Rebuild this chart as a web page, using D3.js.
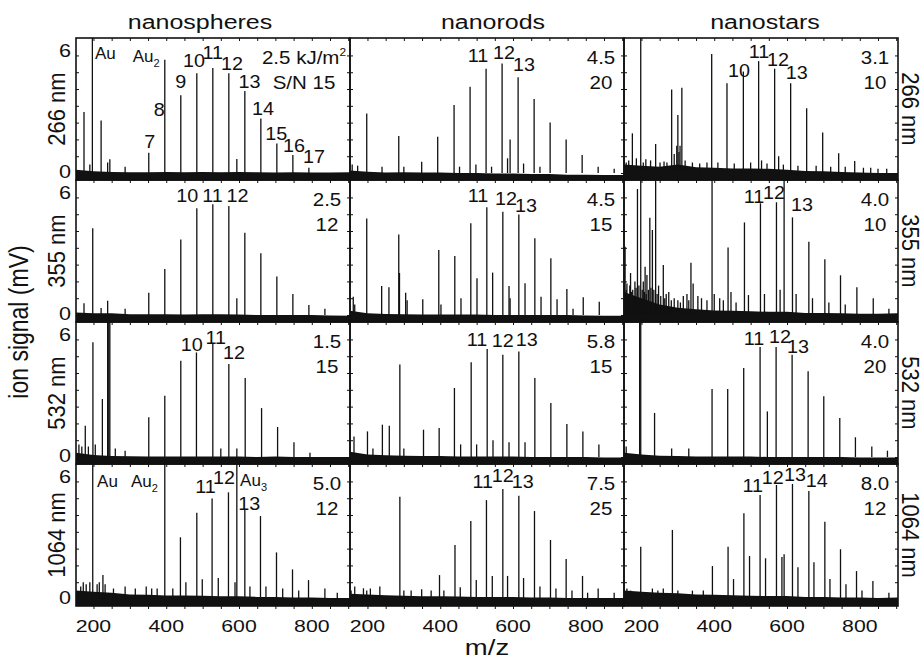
<!DOCTYPE html>
<html>
<head>
<meta charset="utf-8">
<script src="https://cdn.jsdelivr.net/npm/d3@7"></script>
<style>
body { margin: 0; background: #fff; }
text { font-family: "Liberation Sans", Arial, Helvetica, sans-serif; fill: #111; }
</style>
</head>
<body>
<script>
var w = 922, h = 659;

// ---- data ----
var shapes = ["nanospheres", "nanorods", "nanostars"];
var wavelengths = ["266 nm", "355 nm", "532 nm", "1064 nm"];
var xTickValues = [200, 250, 300, 350, 400, 450, 500, 550, 600, 650, 700, 750, 800, 850, 900];
var xTickLabels = [200, 400, 600, 800];
var yTickValues = [0, 0.8, 1.6, 2.4, 3.2, 4.0, 4.8, 5.6];
var yTickLabels = [0, 6];

// fluence (kJ/m2) and S/N, rows = wavelength, cols = shape
var fluence = [["2.5", "4.5", "3.1"], ["2.5", "4.5", "4.0"], ["1.5", "5.8", "4.0"], ["5.0", "7.5", "8.0"]];
var signalNoise = [["15", "20", "10"], ["12", "15", "10"], ["15", "15", "20"], ["12", "25", "12"]];

// baseline noise level read every 50 m/z
var noiseMz = [152, 200, 250, 300, 350, 400, 450, 500, 550, 600, 650, 700, 750, 800, 850, 905];
var noise_sph266 = [0.15, 0.08, 0.05, 0.04, 0.04, 0.05, 0.04, 0.05, 0.04, 0.05, 0.04, 0.03, 0.04, 0.03, 0.03, 0.04];
var noise_rod266 = [0.12, 0.06, 0.03, 0.04, 0.02, 0.03, 0.0, 0.0, -0.02, -0.02, -0.05, -0.05, -0.08, -0.08, -0.1, -0.1];
var noise_star266 = [0.4, 0.35, 0.3, 0.4, 0.28, 0.25, 0.22, 0.22, 0.2, 0.15, 0.1, 0.08, 0.05, 0.03, 0.0, 0.0];
var noise_sph355 = [0.12, 0.08, 0.08, 0.04, 0.04, 0.04, 0.03, 0.04, 0.04, 0.02, 0.0, 0.0, 0.0, 0.0, -0.02, -0.03];
var noise_rod355 = [0.2, 0.08, 0.05, 0.04, 0.03, 0.03, 0.02, 0.02, 0.0, 0.0, 0.0, 0.0, 0.0, -0.02, -0.03, -0.03];
var noise_star355 = [1.1, 0.8, 0.5, 0.35, 0.28, 0.22, 0.2, 0.18, 0.15, 0.15, 0.1, 0.1, 0.08, 0.06, 0.06, 0.08];
var noise_sph532 = [0.2, 0.1, 0.05, 0.04, 0.03, 0.03, 0.02, 0.03, 0.02, 0.02, 0.0, 0.02, 0.0, 0.0, 0.0, 0.0];
var noise_rod532 = [0.25, 0.12, 0.08, 0.06, 0.05, 0.05, 0.03, 0.03, 0.02, 0.02, 0.0, 0.0, 0.0, 0.0, -0.02, -0.02];
var noise_star532 = [0.2, 0.12, 0.06, 0.05, 0.03, 0.03, 0.02, 0.02, 0.0, 0.0, 0.0, 0.0, 0.0, -0.02, -0.02, -0.02];
var noise_sph1064 = [0.4, 0.35, 0.3, 0.22, 0.2, 0.17, 0.17, 0.15, 0.13, 0.13, 0.1, 0.1, 0.07, 0.07, 0.05, 0.05];
var noise_rod1064 = [0.25, 0.22, 0.18, 0.15, 0.13, 0.13, 0.12, 0.1, 0.1, 0.1, 0.07, 0.07, 0.05, 0.05, 0.05, 0.05];
var noise_star1064 = [0.4, 0.35, 0.3, 0.27, 0.22, 0.2, 0.18, 0.16, 0.14, 0.14, 0.1, 0.1, 0.07, 0.07, 0.05, 0.07];

// peaks [m/z, signal]
var peaks_sph266 = [[174, 2.9], [190, 0.4], [197, 7], [221, 2.5], [239, 0.5], [245, 0.65], [287, 0.3], [352, 0.97],
  [396, 5.4], [440, 3.7], [484, 4.75], [528, 5.0], [572, 4.75], [594, 0.67], [616, 3.9], [660, 2.6], [704, 1.4],
  [748, 0.86], [792, 0.25]];
var peaks_rod266 = [[158, 0.4], [173, 0.35], [198, 2.84], [240, 0.3], [286, 1.76], [300, 0.3], [349, 0.54], [393, 1.73],
  [438, 3.24], [453, 0.3], [482, 4.11], [498, 0.4], [526, 4.97], [541, 0.3], [570, 5.22], [585, 0.7], [592, 1.6],
  [614, 4.56], [629, 0.45], [658, 3.52], [674, 0.3], [702, 2.41], [746, 1.6], [790, 0.86], [834, 0.3], [878, 0.2]];
var peaks_star266 = [[158, 0.5], [165, 0.6], [175, 1.89], [186, 0.7], [198, 7], [205, 0.5], [212, 0.65], [225, 0.6],
  [239, 1.38], [251, 0.5], [262, 0.55], [270, 0.5], [283, 3.98], [290, 0.9], [297, 1.3], [300, 2.76], [303, 1.0],
  [306, 1.3], [311, 4.06], [320, 0.6], [340, 0.5], [360, 0.45], [380, 0.5], [393, 5.67], [410, 0.5], [435, 4.27],
  [455, 0.45], [480, 4.83], [500, 0.5], [522, 5.33], [530, 0.6], [545, 0.45], [566, 4.97], [577, 0.8], [590, 0.4],
  [610, 4.27], [630, 0.35], [654, 3.08], [680, 0.35], [698, 1.93], [720, 0.3], [742, 0.94], [760, 0.3], [786, 0.57],
  [810, 0.25], [830, 0.25], [850, 0.2], [874, 0.2]];
var peaks_sph355 = [[174, 0.56], [198, 4.13], [221, 0.33], [239, 0.68], [287, 0.3], [352, 1.06], [396, 2.19], [440, 3.6],
  [484, 5.08], [528, 5.27], [572, 5.19], [594, 0.8], [616, 3.92], [660, 2.94], [704, 1.83], [748, 1.0], [792, 0.48],
  [836, 0.3]];
var peaks_rod355 = [[161, 0.87], [165, 0.5], [198, 4.6], [239, 1.38], [259, 1.32], [286, 3.84], [288, 2.0], [305, 1.06],
  [309, 0.7], [352, 0.75], [396, 3.1], [402, 0.5], [440, 2.81], [457, 0.8], [484, 4.37], [501, 1.75], [528, 5.13],
  [544, 2.02], [572, 4.92], [589, 1.38], [592, 0.8], [616, 4.79], [633, 1.51], [660, 3.65], [677, 0.87], [704, 2.7],
  [721, 0.75], [748, 1.24], [765, 0.3], [793, 0.84], [837, 0.63]];
var peaks_star355 = [[155, 3.25], [158, 1.2], [160, 1.5], [163, 0.9], [165, 1.0], [168, 1.4], [170, 2.0], [173, 1.1],
  [176, 1.2], [179, 0.9], [182, 1.6], [185, 1.3], [189, 6.0], [193, 1.4], [198, 7], [202, 1.2], [205, 1.6], [208, 1.1],
  [210, 2.3], [213, 1.0], [215, 1.9], [219, 1.2], [223, 4.63], [226, 1.3], [230, 4.05], [234, 1.2], [239, 7],
  [243, 1.0], [247, 1.4], [253, 0.9], [260, 2.38], [264, 0.8], [268, 1.0], [275, 1.1], [282, 0.7], [290, 0.8],
  [300, 0.7], [307, 0.6], [315, 0.9], [325, 1.0], [330, 0.7], [336, 2.49], [342, 1.5], [355, 0.9], [365, 0.8],
  [380, 0.7], [394, 7], [400, 1.0], [415, 0.8], [425, 0.7], [438, 3.22], [446, 1.1], [460, 0.6], [483, 4.41],
  [494, 0.95], [527, 5.32], [538, 1.0], [571, 5.37], [581, 1.2], [592, 7], [615, 4.65], [625, 1.0], [660, 3.49],
  [670, 0.8], [704, 2.65], [715, 0.6], [747, 1.89], [760, 0.5], [792, 1.32], [837, 0.8], [880, 0.3]];
var peaks_sph532 = [[160, 0.6], [168, 0.5], [177.5, 1.49], [186, 0.5], [198.5, 5.46], [205, 0.6], [224.5, 2.76],
  [239, 7], [242, 7], [245, 7], [260, 0.4], [287, 0.3], [352, 1.89], [396, 2.92], [440, 4.59], [483, 4.98],
  [528, 5.38], [550, 0.4], [572, 4.43], [594, 0.4], [617, 3.76], [662, 2.33], [706, 1.43], [751, 0.7], [795, 0.2]];
var peaks_rod532 = [[163, 0.98], [200, 1.22], [215, 0.4], [241, 1.54], [260, 1.49], [289, 4.4], [300, 0.4], [354, 1.3],
  [397, 1.38], [439, 3.29], [456, 0.6], [485, 4.51], [500, 0.6], [529, 5.14], [545, 0.8], [572, 4.87], [589, 0.7],
  [616, 5.03], [633, 0.7], [660, 3.76], [704, 2.57], [748, 1.57], [792, 1.22], [836, 0.6]];
var peaks_star532 = [[158, 0.5], [195, 7], [198, 7], [236, 2.1], [283, 0.4], [330, 0.4], [394, 3.24], [437, 3.24],
  [481, 4.24], [526, 5.24], [546, 2.17], [570, 5.24], [614, 4.87], [658, 4.08], [701, 2.89], [745, 1.86], [788, 0.94],
  [833, 0.5], [876, 0.3]];
var peaks_sph1064 = [[165, 0.6], [172, 0.8], [180, 0.7], [190, 0.8], [198, 7], [210, 0.7], [216, 0.8], [226, 1.14],
  [232, 0.7], [255, 0.5], [287, 0.6], [315, 0.5], [345, 0.6], [360, 0.5], [375, 0.5], [396, 7], [418, 0.5],
  [439, 2.94], [454, 0.8], [484, 4.11], [499, 0.94], [526, 4.79], [543, 1.0], [571, 5.08], [589, 0.8], [594, 7],
  [616, 4.24], [630, 0.6], [659, 3.95], [674, 0.6], [703, 2.22], [720, 0.5], [747, 1.41], [764, 0.4], [791, 0.9],
  [836, 0.5], [870, 0.3]];
var peaks_rod1064 = [[155, 0.4], [165, 0.6], [189, 0.51], [198, 0.41], [208, 0.5], [234, 0.6], [289, 4.87], [300, 0.4],
  [320, 0.4], [349, 0.46], [375, 0.4], [398, 1.14], [410, 0.4], [440.5, 2.57], [455, 0.56], [484, 3.71], [499, 0.9],
  [527, 4.71], [543, 1.1], [572, 5.24], [585, 1.1], [616, 4.92], [629, 1.0], [659, 4.19], [674, 0.6], [703, 2.81],
  [718, 0.5], [746, 1.9], [762, 0.4], [791, 1.1], [805, 0.3], [834, 0.5], [878, 0.3]];
var peaks_star1064 = [[160, 0.5], [170, 0.4], [198, 2.49], [230, 0.5], [245, 0.4], [260, 0.5], [285, 3.29], [300, 0.4],
  [340, 0.4], [370, 0.4], [395, 1.57], [438, 2.49], [453, 0.95], [481.5, 4.08], [497, 2.05], [526, 4.95], [541, 1.94],
  [571, 5.43], [586, 2.0], [592, 2.13], [615, 5.48], [630, 1.51], [660, 5.14], [674, 1.75], [704, 3.68], [718, 0.95],
  [747, 2.37], [762, 0.7], [791, 1.33], [806, 0.4], [836, 0.86], [880, 0.3]];

// peak labels [text, m/z, signal] ("Au_2" = Au with subscript 2)
var labels_sph266 = [["Au", 204, 5.43], ["Au_2", 308, 5.29], ["7", 355, 1.19], ["8", 381, 2.73], ["9", 440, 4.05],
  ["10", 476, 5.06], ["11", 528, 5.43], ["12", 581, 4.9], ["13", 629, 4.05], ["14", 666, 2.76], ["15", 702, 1.57],
  ["16", 751, 1.01], ["17", 806, 0.48]];
var labels_rod266 = [["11", 504, 5.3], ["12", 575, 5.43], ["13", 630, 4.86]];
var labels_star266 = [["10", 468, 4.57], ["11", 523, 5.48], ["12", 575, 5.1], ["13", 627, 4.48]];
var labels_sph355 = [["10", 458, 5.4], ["11", 527, 5.4], ["12", 596, 5.4]];
var labels_rod355 = [["11", 504, 5.4], ["12", 581, 5.24], ["13", 636, 4.9]];
var labels_star355 = [["11", 509, 5.33], ["12", 564, 5.52], ["13", 641, 4.95]];
var labels_sph532 = [["10", 470, 5.05], ["11", 536, 5.38], ["12", 586, 4.68]];
var labels_rod532 = [["11", 501, 5.29], ["12", 572, 5.24], ["13", 638, 5.29]];
var labels_star532 = [["11", 509, 5.35], ["12", 581, 5.43], ["13", 630, 4.95]];
var labels_sph1064 = [["Au", 210, 5.33], ["Au_2", 303, 5.33], ["11", 508, 5.05], ["12", 559, 5.48], ["Au_3", 603, 5.4],
  ["13", 628, 4.25]];
var labels_rod1064 = [["11", 517, 5.29], ["12", 572, 5.57], ["13", 627, 5.29]];
var labels_star1064 = [["11", 506, 5.11], ["12", 561, 5.48], ["13", 622, 5.63], ["14", 682, 5.33]];

var grid = [
  [[peaks_sph266, noise_sph266, labels_sph266], [peaks_rod266, noise_rod266, labels_rod266], [peaks_star266, noise_star266, labels_star266]],
  [[peaks_sph355, noise_sph355, labels_sph355], [peaks_rod355, noise_rod355, labels_rod355], [peaks_star355, noise_star355, labels_star355]],
  [[peaks_sph532, noise_sph532, labels_sph532], [peaks_rod532, noise_rod532, labels_rod532], [peaks_star532, noise_star532, labels_star532]],
  [[peaks_sph1064, noise_sph1064, labels_sph1064], [peaks_rod1064, noise_rod1064, labels_rod1064], [peaks_star1064, noise_star1064, labels_star1064]]
];

// ---- layout ----
var padLeft = 76, padTop = 38, colW = 274, rowH = 142;
var titleDx = [-13, 6, 4];

var svg = d3.select("body").append("svg")
    .attr("width", w)
    .attr("height", h);

function addText(g, x, y, str, size, sx, anchor) {
    return g.append("text")
        .attr("transform", "translate(" + x + "," + y + ") scale(" + sx + ",1)")
        .attr("text-anchor", anchor)
        .style("font-size", size + "px")
        .text(str);
}

grid.forEach(function (row, r) {
    var y0 = padTop + r * rowH;
    var y = d3.scaleLinear().domain([-0.333, 6.43]).range([y0 + rowH, y0]);

    row.forEach(function (cell, c) {
        var x0 = padLeft + c * colW;
        var x = d3.scaleLinear().domain([152, 905]).range([x0, x0 + colW]);
        var peaks = cell[0], noise = cell[1], labels = cell[2];
        var g = svg.append("g");

        var clipId = "clip" + r + c;
        svg.append("clipPath").attr("id", clipId)
            .append("rect").attr("x", x0).attr("y", y0).attr("width", colW).attr("height", rowH);
        var plot = g.append("g").attr("clip-path", "url(#" + clipId + ")");

        // noise band
        var area = d3.area()
            .x(function (d) { return x(d[0]); })
            .y0(y(-0.6))
            .y1(function (d) { return y(d[1]); });
        plot.append("path")
            .datum(noiseMz.map(function (m, i) { return [m, noise[i]]; }))
            .attr("d", area)
            .attr("fill", "#111");

        // peaks
        plot.selectAll("line.pk")
            .data(peaks)
            .enter()
            .append("line")
            .attr("class", "pk")
            .attr("x1", function (d) { return x(d[0]); })
            .attr("x2", function (d) { return x(d[0]); })
            .attr("y1", y(0))
            .attr("y2", function (d) { return y(d[1]); })
            .attr("stroke", "#111")
            .attr("stroke-width", 1.3);

        // ticks
        var bottomRow = r === grid.length - 1;
        g.append("g").attr("transform", "translate(0," + (y0 + rowH) + ")")
            .call(d3.axisBottom(x).tickValues(xTickValues).tickSize(bottomRow ? 3 : -3).tickFormat(""));
        g.append("g").attr("transform", "translate(0," + y0 + ")")
            .call(d3.axisTop(x).tickValues(xTickValues).tickSize(-3).tickFormat(""));
        g.append("g").attr("transform", "translate(" + x0 + ",0)")
            .call(d3.axisLeft(y).tickValues(yTickValues).tickSize(-3).tickFormat(""));
        g.append("g").attr("transform", "translate(" + (x0 + colW) + ",0)")
            .call(d3.axisRight(y).tickValues(yTickValues).tickSize(-3).tickFormat(""));
        g.selectAll(".domain").remove();
        g.selectAll(".tick line").attr("stroke", "#111").attr("stroke-width", 1);

        // frame
        g.append("rect")
            .attr("x", x0).attr("y", y0).attr("width", colW).attr("height", rowH)
            .attr("fill", "none").attr("stroke", "#111").attr("stroke-width", 1.6);

        // peak labels
        labels.forEach(function (lb) {
            var parts = lb[0].split("_");
            if (parts[0] === "Au") {
                var t = addText(g, x(lb[1]), y(lb[2]), parts[0], 17, 1, "start");
                if (parts[1]) {
                    t.append("tspan").attr("dy", 5).style("font-size", "11px").text(parts[1]);
                }
            } else {
                addText(g, x(lb[1]), y(lb[2]), lb[0], 18, 1.1, "middle");
            }
        });

        // fluence and S/N
        if (r === 0 && c === 0) {
            var t1 = addText(g, x0 + colW - 46, y0 + 26, fluence[r][c] + " kJ/m", 19, 1.08, "middle");
            t1.append("tspan").attr("dy", -8).style("font-size", "11px").text("2");
            addText(g, x0 + colW - 46, y0 + 51, "S/N " + signalNoise[r][c], 19, 1.08, "middle");
        } else {
            addText(g, x0 + colW - 23, y0 + 26, fluence[r][c], 19, 1.08, "middle");
            addText(g, x0 + colW - 23, y0 + 51, signalNoise[r][c], 19, 1.08, "middle");
        }

        // y tick labels on the left column
        if (c === 0) {
            yTickLabels.forEach(function (v) {
                addText(g, x0 - 5, y(v) + (v === 0 ? 5 : 10), String(v), 18, 1.2, "end");
            });
        }
        // x tick labels on the bottom row
        if (bottomRow) {
            xTickLabels.forEach(function (v) {
                addText(g, x(v), y0 + rowH + 26, String(v), 17, 1.25, "middle");
            });
        }
    });

    // wavelength labels on both sides
    var cy = y0 + rowH / 2;
    svg.append("text")
        .attr("transform", "translate(65," + cy + ") rotate(-90) scale(1,1.1)")
        .attr("text-anchor", "middle")
        .style("font-size", "22px")
        .text(wavelengths[r]);
    svg.append("text")
        .attr("transform", "translate(902," + cy + ") rotate(90) scale(1,1.05)")
        .attr("text-anchor", "middle")
        .style("font-size", "22px")
        .text(wavelengths[r]);
});

// column titles
shapes.forEach(function (s, c) {
    addText(svg, padLeft + c * colW + colW / 2 + titleDx[c], 29, s, 20, 1.25, "middle");
});

// axis titles
svg.append("text")
    .attr("transform", "translate(28," + (padTop + 2 * rowH) + ") rotate(-90) scale(1,1.2)")
    .attr("text-anchor", "middle")
    .style("font-size", "23px")
    .text("ion signal (mV)");
addText(svg, padLeft + 1.5 * colW, 655, "m/z", 22, 1.25, "middle");
</script>
</body>
</html>
